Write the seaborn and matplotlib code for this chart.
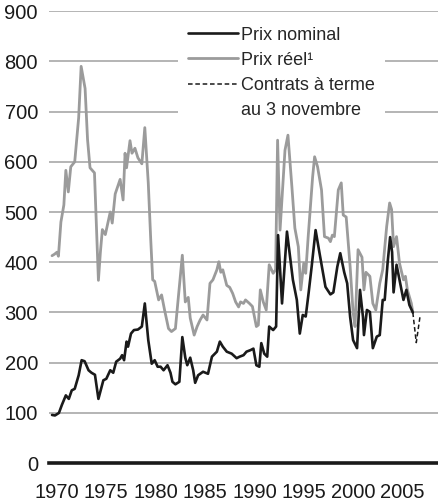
import numpy as np
import pandas as pd
import matplotlib
matplotlib.use("Agg")
import matplotlib.pyplot as plt
import seaborn as sns
from matplotlib.lines import Line2D

# values
real_years = [1969.5, 1969.75, 1970.0, 1970.15, 1970.4, 1970.7, 1970.9, 1971.15, 1971.4,
              1971.8, 1972.2, 1972.45, 1972.85, 1973.1, 1973.35, 1973.8, 1974.2, 1974.4,
              1974.6, 1974.9, 1975.4, 1975.6, 1975.9, 1976.4, 1976.7, 1976.9, 1977.05,
              1977.4, 1977.6, 1977.9, 1978.2, 1978.6, 1978.9, 1979.25, 1979.5, 1979.7,
              1979.9, 1980.3, 1980.6, 1980.9, 1981.3, 1981.6, 1982.0, 1982.3, 1982.7,
              1983.0, 1983.3, 1983.5, 1983.9, 1984.2, 1984.5, 1984.8, 1985.2, 1985.5,
              1985.8, 1986.2, 1986.4, 1986.6, 1986.8, 1987.2, 1987.5, 1987.8, 1988.1,
              1988.4, 1988.6, 1988.9, 1989.1, 1989.5, 1989.8, 1990.2, 1990.4, 1990.6,
              1990.9, 1991.2, 1991.5, 1991.9, 1992.15, 1992.35, 1992.6, 1993.1, 1993.4,
              1993.8, 1994.1, 1994.45, 1994.7, 1995.0, 1995.2, 1995.45, 1995.9, 1996.1,
              1996.4, 1996.8, 1997.1, 1997.5, 1997.7, 1997.9, 1998.1, 1998.5, 1998.8,
              1999.0, 1999.3, 1999.7, 2000.0, 2000.2, 2000.5, 2000.9, 2001.1, 2001.3,
              2001.7, 2002.0, 2002.3, 2002.7, 2003.0, 2003.4, 2003.7, 2003.9, 2004.1,
              2004.4, 2004.7, 2005.1, 2005.3, 2005.5, 2005.9, 2006.05]
real_vals = [413, 416, 420, 412, 480, 514, 583, 540, 590,
             600, 688, 790, 746, 644, 588, 578, 364, 420,
             465, 455, 500, 478, 536, 565, 524, 617, 588,
             642, 617, 627, 608, 596, 668, 558, 445, 365,
             362, 325, 335, 305, 268, 262, 268, 331, 414,
             321, 330, 289, 255, 272, 285, 295, 285, 358,
             365, 385, 401, 380, 385, 354, 350, 338, 321,
             311, 321, 318, 325, 318, 312, 272, 275, 345,
             321, 305, 395, 378, 385, 643, 464, 623, 653,
             550, 468, 431, 345, 398, 378, 451, 570, 610,
             590, 544, 451, 448, 441, 454, 451, 544, 558,
             494, 490, 391, 300, 272, 425, 410, 345, 380,
             372, 318, 305, 358, 385, 471, 518, 505, 431,
             451, 398, 365, 372, 345, 318, 300]

nom_years = [1969.5, 1969.8, 1970.2, 1970.5, 1970.9, 1971.2, 1971.5, 1971.8, 1972.2,
             1972.5, 1972.8, 1973.2, 1973.5, 1973.85, 1974.2, 1974.7, 1975.0, 1975.4,
             1975.7, 1976.0, 1976.4, 1976.6, 1976.8, 1977.05, 1977.2, 1977.5, 1977.8,
             1978.2, 1978.6, 1978.9, 1979.25, 1979.6, 1979.9, 1980.2, 1980.5, 1980.8,
             1981.2, 1981.5, 1981.7, 1982.0, 1982.4, 1982.7, 1983.0, 1983.2, 1983.5,
             1983.8, 1984.0, 1984.3, 1984.8, 1985.3, 1985.7, 1986.2, 1986.5, 1986.8,
             1987.2, 1987.7, 1988.2, 1988.5, 1988.9, 1989.2, 1989.6, 1989.9, 1990.2,
             1990.5, 1990.7, 1991.0, 1991.3, 1991.5, 1991.9, 1992.2, 1992.4, 1992.8,
             1993.3, 1993.9, 1994.3, 1994.6, 1994.9, 1995.2, 1995.5, 1995.8, 1996.2,
             1996.6, 1997.2, 1997.7, 1998.0, 1998.4, 1998.7, 1999.1, 1999.4, 1999.7,
             2000.0, 2000.4, 2000.7, 2001.0, 2001.1, 2001.4, 2001.7, 2002.0, 2002.4,
             2002.7, 2003.0, 2003.2, 2003.5, 2003.75, 2003.95, 2004.1, 2004.4, 2004.75,
             2005.1, 2005.4, 2005.7, 2006.05]
nom_vals = [96, 95, 100, 116, 135, 128, 145, 148, 175,
            205, 203, 185, 180, 176, 128, 165, 168, 185,
            180, 202, 208, 215, 205, 242, 232, 258, 265,
            266, 272, 318, 245, 198, 205, 192, 192, 185,
            195, 180, 162, 157, 162, 251, 210, 195, 210,
            185, 160, 175, 182, 178, 212, 222, 242, 232,
            222, 218, 209, 212, 215, 222, 225, 228, 195,
            192, 239, 218, 212, 272, 265, 272, 454, 318,
            461, 365, 325, 258, 295, 292, 340, 391, 464,
            418, 351, 336, 340, 391, 418, 380, 358, 291,
            245, 229, 345, 291, 255, 305, 301, 229, 252,
            255, 325, 325, 400, 450, 420, 340, 395, 360,
            325, 345, 315, 300]

fut_years = [2006.05, 2006.4, 2006.8]
fut_vals = [300, 240, 295]

labels = ["Prix nominal", "Prix réel\u00b9", "Contrats à terme", "au 3 novembre"]

sns.set_style("white")
plt.rcParams["font.family"] = ["Liberation Sans", "DejaVu Sans"]

fig = plt.figure(figsize=(4.38, 5.04), dpi=100)
ax = fig.add_axes([0.112, 0.081, 0.888, 0.897])

grey = "#9b9b9b"
dash = (0, (3.0, 1.8))
sns.lineplot(x=real_years, y=real_vals, ax=ax, color=grey, lw=2.0,
             estimator=None, sort=False, zorder=3)
sns.lineplot(x=nom_years, y=nom_vals, ax=ax, color="#1a1a1a", lw=1.9,
             estimator=None, sort=False, zorder=4)
sns.lineplot(x=fut_years, y=fut_vals, ax=ax, color="#1a1a1a", lw=1.1,
             estimator=None, sort=False, zorder=4)
ax.lines[-1].set_linestyle(dash)

ax.set_xlim(1969.2, 2008.6)
ax.set_ylim(0, 900)
ax.set_yticks(range(0, 901, 100))
ax.set_xticks(range(1970, 2006, 5))
ax.yaxis.grid(True, color="#a8a8a8", lw=1.2)
ax.set_axisbelow(True)
for s in ["top", "right", "left"]:
    ax.spines[s].set_visible(False)
ax.spines["bottom"].set_color("#1a1a1a")
ax.spines["bottom"].set_linewidth(2.6)
ax.spines["bottom"].set_zorder(5)
ax.tick_params(axis="y", length=0, pad=8, labelsize=14.5, colors="#1a1a1a")
ax.tick_params(axis="x", length=6, width=1.0, color="#a8a8a8", pad=8,
               labelsize=14.5, labelcolor="#1a1a1a")
ax.set_xlabel("")
ax.set_ylabel("")

handles = [Line2D([], [], color="#1a1a1a", lw=1.9),
           Line2D([], [], color=grey, lw=2.0),
           Line2D([], [], color="#1a1a1a", lw=1.1, ls=dash),
           Line2D([], [], color="none", lw=0)]
leg = ax.legend(handles, labels, loc="upper left", bbox_to_anchor=(0.332, 0.9876),
                fontsize=13, frameon=True, fancybox=False, borderpad=0.55,
                handlelength=2.77, handletextpad=0.17, labelspacing=0.45,
                borderaxespad=0)
leg.get_frame().set_facecolor("white")
leg.get_frame().set_edgecolor("none")
leg.get_frame().set_alpha(1)
leg.set_zorder(6)

fig.savefig("out.png", dpi=100)
